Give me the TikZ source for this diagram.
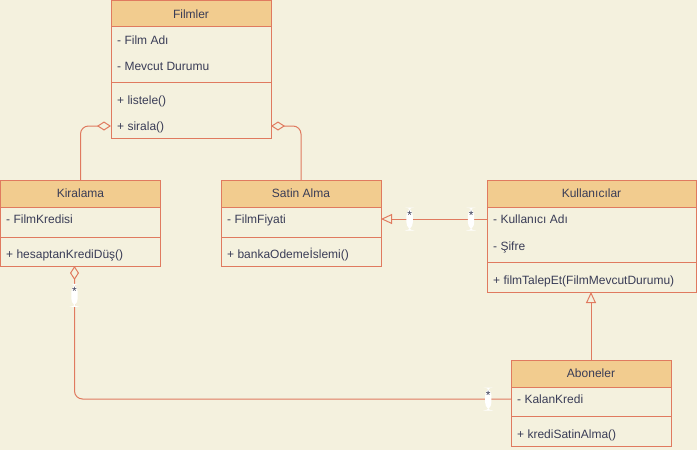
\documentclass[tikz,border=0pt]{standalone}
\usepackage{fontspec}
\setmainfont{Liberation Sans}
\usepackage{tikz}
\usetikzlibrary{arrows.meta,positioning,calc}

\definecolor{bgcol}{HTML}{F4F1DE}
\definecolor{headcol}{HTML}{F2CC8F}
\definecolor{linecol}{HTML}{E07A5F}
\definecolor{txtcol}{HTML}{393C56}

\begin{document}
\begin{tikzpicture}[
    x = 1pt, y = -1pt,
    font = \fontsize{12}{14}\selectfont,
    head/.style = {rectangle, draw=linecol, fill=headcol, line width=1pt, minimum width=160pt, minimum height=27pt, anchor=north west, inner sep=0pt, outer sep=0pt, text=txtcol, text height=8.5pt, text depth=0pt},
    part/.style = {rectangle, draw=linecol, fill=bgcol, line width=1pt, minimum width=160pt, anchor=north west, inner sep=0pt, outer sep=0pt},
    row/.style = {anchor=west, inner sep=0pt, text=txtcol, text height=8.5pt, text depth=0pt},
    link/.style = {draw=linecol, line width=1pt, rounded corners=8pt},
    aggr/.style = {link, -{Diamond[open, length=14pt, width=9pt, fill=bgcol]}},
    inherit/.style = {link, -{Triangle[open, length=11pt, width=10pt, fill=bgcol]}},
    mult/.style = {fill=white, inner xsep=0.8pt, inner ysep=0pt, text=txtcol, text height=11.5pt, text depth=11.5pt}
]
    \path[fill=bgcol, use as bounding box] (0,0) rectangle (697,450);

    % Filmler
    \node[head] (filmler) at (111,0.5) {Filmler};
    \node[part, minimum height=55.5pt] (filmlerAttr) at (111,26.5) {};
    \node[part, minimum height=56pt] (filmlerOps) at (111,82) {};
    \node[row] (filmAdi) at (117,40) {- Film Adı};
    \node[row] (mevcut) at (117,66) {- Mevcut Durumu};
    \node[row] (listele) at (117,100) {+ listele()};
    \node[row] (sirala) at (117,126) {+ sirala()};

    % Kiralama
    \node[head] (kiralama) at (0.5,180) {Kiralama};
    \node[part, minimum height=30pt] (kiralamaAttr) at (0.5,207) {};
    \node[part, minimum height=29pt] (kiralamaOps) at (0.5,237) {};
    \node[row] (filmKredisi) at (6,219) {- FilmKredisi};
    \node[row] (krediDus) at (6,254) {+ hesaptanKrediDüş()};

    % Satin Alma
    \node[head] (satinAlma) at (221,180) {Satin Alma};
    \node[part, minimum height=30pt] (satinAttr) at (221,207) {};
    \node[part, minimum height=29pt] (satinOps) at (221,237) {};
    \node[row] (filmFiyati) at (227,219) {- FilmFiyati};
    \node[row] (bankaOdeme) at (227,254) {+ bankaOdemeİslemi()};

    % Kullanicilar
    \node[head, minimum width=209pt] (kull) at (487,180) {Kullanıcılar};
    \node[part, minimum width=209pt, minimum height=55pt] (kullAttr) at (487,207) {};
    \node[part, minimum width=209pt, minimum height=30pt] (kullOps) at (487,262) {};
    \node[row] (kullAdi) at (493,219) {- Kullanıcı Adı};
    \node[row] (sifre) at (493,246) {- Şifre};
    \node[row] (talep) at (493,280) {+ filmTalepEt(FilmMevcutDurumu)};

    % Aboneler
    \node[head] (aboneler) at (511,360) {Aboneler};
    \node[part, minimum height=29pt] (aboneAttr) at (511,387) {};
    \node[part, minimum height=30pt] (aboneOps) at (511,416) {};
    \node[row] (kalanKredi) at (517,399) {- KalanKredi};
    \node[row] (krediSatin) at (517,434) {+ krediSatinAlma()};

    % Aggregations to Filmler
    \draw[aggr] (kiralama.north) |- (filmlerOps.west |- sirala);
    \draw[aggr] (satinAlma.north) |- (filmlerOps.east |- sirala);

    % Kullanicilar -> Satin Alma
    \draw[inherit] (kullAttr.west |- kullAdi) -- (satinAttr.east |- filmFiyati)
        node[mult, pos=0.15] (multKull) {*}
        node[mult, pos=0.73] (multSatin) {*};

    % Aboneler -> Kullanicilar
    \draw[inherit] (aboneler.north) -- (aboneler.north |- kullOps.south);

    % Aboneler -- Kiralama
    \draw[aggr] (aboneAttr.west |- kalanKredi) -| ([xshift=-6pt]kiralamaOps.south)
        node[mult, pos=0.026] (multAbone) {*}
        node[mult, pos=0.89] (multKira) {*};

\end{tikzpicture}
\end{document}
